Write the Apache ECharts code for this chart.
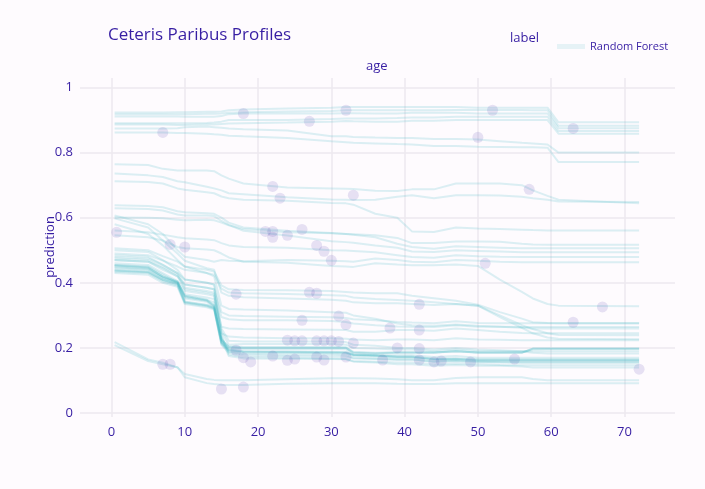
<!DOCTYPE html>
<html>
<head>
<meta charset="utf-8">
<script src="https://cdn.jsdelivr.net/npm/echarts@6/dist/echarts.min.js"></script>
<style>
  html, body { margin: 0; padding: 0; background: #fefbfe; }
  #main { width: 705px; height: 489px; }
</style>
</head>
<body>
<div id="main"></div>
<script>
// ages at which each ceteris paribus profile is evaluated
var AGES = [0.42, 5, 7, 9, 10, 13, 14, 15, 16, 18, 24, 30, 32, 33, 36, 39, 41, 44, 47, 50, 53, 56, 57.5, 59.5, 61, 72];

// profiles that sit near the top of the chart
var TOP_PROFILES = [
    [0.923,0.923,0.923,0.924,0.924,0.925,0.925,0.926,0.93,0.932,0.935,0.938,0.94,0.94,0.94,0.94,0.94,0.94,0.94,0.938,0.938,0.938,0.938,0.938,0.893,0.893],
    [0.918,0.918,0.918,0.918,0.918,0.919,0.919,0.92,0.922,0.924,0.926,0.928,0.93,0.93,0.93,0.93,0.93,0.93,0.931,0.931,0.931,0.931,0.93,0.93,0.882,0.882],
    [0.911,0.911,0.911,0.911,0.91,0.91,0.91,0.912,0.918,0.92,0.92,0.92,0.921,0.921,0.92,0.92,0.922,0.922,0.922,0.92,0.92,0.92,0.92,0.92,0.875,0.875],
    [0.89,0.89,0.89,0.89,0.89,0.891,0.892,0.895,0.9,0.9,0.9,0.903,0.905,0.905,0.905,0.906,0.908,0.908,0.91,0.91,0.91,0.91,0.91,0.91,0.866,0.866],
    [0.886,0.886,0.886,0.885,0.885,0.886,0.886,0.888,0.889,0.89,0.892,0.895,0.897,0.896,0.895,0.895,0.898,0.898,0.9,0.9,0.9,0.9,0.9,0.9,0.858,0.858],
    [0.874,0.874,0.874,0.875,0.878,0.88,0.878,0.876,0.874,0.872,0.868,0.85,0.85,0.848,0.846,0.845,0.845,0.842,0.842,0.84,0.835,0.83,0.828,0.825,0.8,0.8],
    [0.862,0.862,0.862,0.86,0.86,0.858,0.856,0.855,0.852,0.85,0.845,0.835,0.832,0.83,0.828,0.826,0.825,0.82,0.82,0.818,0.817,0.816,0.816,0.815,0.771,0.771]
];

var UPPER_PROFILES = [
    [0.764,0.762,0.75,0.745,0.745,0.745,0.743,0.73,0.72,0.705,0.693,0.69,0.689,0.688,0.683,0.682,0.687,0.687,0.705,0.705,0.705,0.7,0.684,0.667,0.655,0.644],
    [0.736,0.73,0.725,0.712,0.709,0.695,0.69,0.684,0.675,0.672,0.663,0.656,0.655,0.654,0.655,0.664,0.669,0.66,0.669,0.669,0.668,0.664,0.66,0.655,0.65,0.648],
    [0.712,0.71,0.705,0.69,0.686,0.678,0.675,0.665,0.66,0.655,0.652,0.645,0.644,0.64,0.612,0.6,0.558,0.556,0.57,0.567,0.565,0.563,0.562,0.561,0.561,0.561]
];

var MID_PROFILES = [
    [0.638,0.636,0.632,0.62,0.617,0.614,0.612,0.6,0.585,0.57,0.56,0.553,0.55,0.548,0.54,0.52,0.51,0.505,0.512,0.51,0.508,0.506,0.506,0.506,0.506,0.506],
    [0.629,0.627,0.622,0.61,0.607,0.607,0.605,0.59,0.578,0.56,0.545,0.528,0.525,0.523,0.515,0.508,0.496,0.495,0.5,0.498,0.496,0.494,0.494,0.494,0.494,0.494],
    [0.601,0.6,0.598,0.594,0.592,0.594,0.592,0.585,0.577,0.565,0.555,0.552,0.55,0.549,0.546,0.538,0.522,0.522,0.527,0.527,0.526,0.52,0.518,0.517,0.517,0.517],
    [0.561,0.555,0.548,0.54,0.537,0.533,0.531,0.522,0.515,0.51,0.508,0.5,0.499,0.498,0.494,0.485,0.479,0.477,0.485,0.482,0.48,0.479,0.479,0.479,0.479,0.479],
    [0.607,0.58,0.55,0.5,0.48,0.47,0.465,0.47,0.468,0.466,0.47,0.468,0.466,0.465,0.475,0.47,0.465,0.463,0.47,0.468,0.465,0.463,0.463,0.463,0.463,0.463],
    [0.546,0.54,0.53,0.51,0.506,0.502,0.5,0.49,0.478,0.465,0.462,0.452,0.45,0.449,0.46,0.456,0.454,0.454,0.456,0.452,0.41,0.372,0.352,0.335,0.33,0.328]
];

// profiles that fall at age ~14 but stay above the main bundle
var LOW_PROFILES = [
    [0.506,0.5,0.482,0.465,0.45,0.44,0.435,0.392,0.38,0.378,0.377,0.375,0.372,0.37,0.368,0.368,0.36,0.353,0.345,0.333,0.31,0.29,0.279,0.277,0.276,0.276],
    [0.49,0.485,0.468,0.45,0.44,0.43,0.425,0.382,0.37,0.368,0.366,0.362,0.36,0.355,0.35,0.347,0.345,0.34,0.335,0.33,0.3,0.27,0.258,0.245,0.24,0.239],
    [0.598,0.57,0.53,0.49,0.468,0.445,0.44,0.37,0.36,0.356,0.352,0.348,0.345,0.34,0.337,0.337,0.335,0.332,0.335,0.33,0.295,0.262,0.245,0.232,0.228,0.227],
    [0.479,0.475,0.455,0.43,0.41,0.4,0.395,0.31,0.3,0.298,0.296,0.294,0.292,0.288,0.285,0.28,0.278,0.276,0.282,0.277,0.276,0.276,0.276,0.276,0.276,0.276],
    [0.469,0.465,0.445,0.42,0.395,0.385,0.38,0.295,0.288,0.285,0.285,0.283,0.28,0.275,0.27,0.266,0.265,0.264,0.27,0.265,0.265,0.264,0.264,0.264,0.264,0.264],
    [0.46,0.455,0.43,0.405,0.375,0.365,0.36,0.265,0.26,0.258,0.257,0.256,0.255,0.25,0.25,0.255,0.255,0.253,0.26,0.255,0.25,0.246,0.245,0.245,0.245,0.245],
    [0.455,0.45,0.425,0.4,0.365,0.355,0.35,0.245,0.235,0.232,0.23,0.23,0.228,0.226,0.224,0.226,0.226,0.224,0.23,0.226,0.225,0.224,0.224,0.224,0.224,0.224],
    [0.58,0.55,0.515,0.47,0.45,0.43,0.42,0.33,0.32,0.318,0.315,0.31,0.308,0.3,0.29,0.275,0.27,0.268,0.272,0.268,0.265,0.262,0.26,0.26,0.26,0.26]
];

// the dense bundle that ends around 0.15-0.2
var DROP_PROFILES = [
    [0.451,0.445,0.418,0.402,0.356,0.345,0.328,0.224,0.202,0.2,0.2,0.2,0.2,0.185,0.182,0.185,0.185,0.185,0.19,0.185,0.185,0.185,0.198,0.198,0.198,0.198],
    [0.453,0.447,0.419,0.403,0.358,0.346,0.33,0.225,0.203,0.201,0.201,0.201,0.201,0.186,0.184,0.186,0.186,0.186,0.19,0.186,0.186,0.186,0.198,0.198,0.198,0.198],
    [0.455,0.448,0.42,0.405,0.36,0.348,0.332,0.226,0.205,0.203,0.203,0.203,0.202,0.188,0.185,0.187,0.187,0.186,0.19,0.186,0.186,0.186,0.196,0.197,0.197,0.197],
    [0.448,0.442,0.415,0.4,0.352,0.342,0.325,0.22,0.198,0.197,0.197,0.197,0.196,0.18,0.178,0.178,0.178,0.172,0.175,0.17,0.17,0.17,0.17,0.17,0.17,0.17],
    [0.437,0.432,0.408,0.395,0.34,0.33,0.322,0.215,0.193,0.188,0.187,0.186,0.185,0.178,0.176,0.172,0.172,0.165,0.166,0.162,0.162,0.162,0.162,0.162,0.162,0.162],
    [0.438,0.433,0.409,0.396,0.341,0.331,0.323,0.216,0.194,0.189,0.188,0.187,0.186,0.179,0.177,0.173,0.173,0.166,0.167,0.163,0.163,0.163,0.163,0.163,0.163,0.163],
    [0.44,0.435,0.41,0.398,0.343,0.333,0.325,0.218,0.196,0.19,0.189,0.188,0.187,0.18,0.178,0.174,0.174,0.167,0.168,0.165,0.165,0.165,0.165,0.165,0.165,0.165],
    [0.434,0.43,0.405,0.392,0.338,0.328,0.32,0.212,0.19,0.186,0.185,0.184,0.183,0.176,0.174,0.17,0.17,0.163,0.164,0.16,0.16,0.16,0.16,0.16,0.16,0.16],
    [0.43,0.425,0.4,0.388,0.335,0.325,0.318,0.21,0.185,0.178,0.175,0.174,0.173,0.168,0.166,0.163,0.163,0.158,0.16,0.156,0.156,0.155,0.155,0.155,0.155,0.155],
    [0.445,0.44,0.415,0.4,0.36,0.348,0.34,0.23,0.175,0.168,0.167,0.166,0.165,0.158,0.155,0.15,0.15,0.145,0.148,0.145,0.145,0.143,0.14,0.14,0.14,0.14],
    [0.47,0.465,0.44,0.42,0.38,0.37,0.365,0.24,0.18,0.172,0.17,0.168,0.166,0.16,0.158,0.155,0.155,0.15,0.152,0.15,0.148,0.147,0.147,0.147,0.147,0.147],
    [0.485,0.48,0.455,0.43,0.395,0.385,0.38,0.25,0.21,0.212,0.212,0.212,0.21,0.2,0.198,0.195,0.195,0.19,0.195,0.19,0.19,0.19,0.19,0.19,0.19,0.19],
    [0.5,0.495,0.47,0.44,0.41,0.4,0.395,0.26,0.222,0.22,0.22,0.22,0.218,0.21,0.207,0.2,0.2,0.195,0.2,0.195,0.193,0.19,0.185,0.183,0.183,0.183],
    [0.475,0.47,0.448,0.425,0.385,0.375,0.37,0.235,0.188,0.182,0.18,0.18,0.178,0.17,0.168,0.165,0.165,0.158,0.16,0.158,0.156,0.155,0.155,0.155,0.155,0.155]
];

var BOTTOM_PROFILES = [
    [0.218,0.165,0.155,0.14,0.12,0.105,0.102,0.101,0.101,0.101,0.104,0.107,0.107,0.107,0.106,0.104,0.101,0.101,0.108,0.11,0.11,0.11,0.105,0.101,0.101,0.101],
    [0.209,0.16,0.15,0.141,0.11,0.092,0.089,0.087,0.086,0.086,0.09,0.092,0.092,0.092,0.092,0.09,0.089,0.089,0.092,0.092,0.092,0.092,0.092,0.092,0.092,0.092]
];

// observed passengers (age, prediction)
var OBS_AGE  = [0.7, 7, 8, 10, 7, 8, 15, 18, 17, 17, 19, 18, 18, 21, 22, 22, 22, 22, 23, 24, 24, 24, 25, 25, 26, 26, 26, 27, 27, 28, 28, 28, 28, 29, 29, 29, 30, 30, 31, 31, 32, 32, 32, 33, 33, 37, 38, 39, 42, 42, 42, 42, 44, 45, 49, 50, 51, 52, 55, 57, 63, 63, 67, 72];
var OBS_PRED = [0.555, 0.862, 0.518, 0.51, 0.15, 0.15, 0.074, 0.08, 0.365, 0.193, 0.157, 0.17, 0.92, 0.558, 0.558, 0.54, 0.696, 0.175, 0.66, 0.546, 0.224, 0.162, 0.222, 0.166, 0.564, 0.285, 0.222, 0.896, 0.371, 0.368, 0.515, 0.222, 0.172, 0.497, 0.222, 0.163, 0.469, 0.222, 0.298, 0.22, 0.93, 0.272, 0.172, 0.669, 0.215, 0.163, 0.261, 0.2, 0.334, 0.255, 0.198, 0.163, 0.157, 0.16, 0.157, 0.847, 0.46, 0.93, 0.166, 0.687, 0.874, 0.279, 0.326, 0.135];

var TEXT = '#371ea3';
var GRID = '#ede8ef';
var FONT = 'Open Sans, Noto Sans, sans-serif';

var myChart = echarts.init(document.getElementById('main'));

var allProfiles = [].concat(TOP_PROFILES, UPPER_PROFILES, MID_PROFILES, LOW_PROFILES, DROP_PROFILES, BOTTOM_PROFILES);
var series = allProfiles.map(function (p) {
    return {
        name: 'Random Forest',
        type: 'line',
        data: AGES.map(function (a, i) { return [a, p[i]]; }),
        symbol: 'none',
        silent: true,
        itemStyle: { color: '#46bac2' },
        lineStyle: { width: 2, color: '#46bac2', opacity: 0.19 },
        z: 2
    };
});
series.push({
    name: 'obs',
    type: 'scatter',
    data: OBS_AGE.map(function (a, i) { return [a, OBS_PRED[i]]; }),
    symbolSize: 11,
    silent: true,
    itemStyle: { color: TEXT, opacity: 0.12 },
    z: 3
});

var option = {
    backgroundColor: '#fefbfe',
    animation: false,
    textStyle: { fontFamily: FONT },
    title: {
        text: 'Ceteris Paribus Profiles',
        left: 103,
        top: 22,
        textStyle: { color: TEXT, fontSize: 17, fontWeight: 'normal', fontFamily: FONT }
    },
    legend: {
        data: [{ name: 'Random Forest', icon: 'rect', itemStyle: { color: 'rgba(70,186,194,0.13)' } }],
        left: 552,
        top: 36,
        itemWidth: 28,
        itemHeight: 5,
        textStyle: { color: TEXT, fontSize: 11, fontFamily: FONT }
    },
    graphic: [
        { type: 'text', left: 510, top: 32, style: { text: 'label', fill: TEXT, font: '13px ' + FONT } },
        { type: 'text', left: 366, top: 60, style: { text: 'age', fill: TEXT, font: '13px ' + FONT } },
        {
            type: 'text', x: 50, y: 247, rotation: Math.PI / 2,
            style: { text: 'prediction', fill: TEXT, font: '13px ' + FONT, align: 'center', verticalAlign: 'middle' }
        }
    ],
    grid: { left: 80, right: 30, top: 78, bottom: 72 },
    xAxis: {
        type: 'value',
        min: -4.3,
        max: 76.9,
        splitNumber: 8,
        axisLine: { show: false },
        axisTick: { show: false },
        axisLabel: { color: TEXT, fontSize: 13, margin: 9, showMinLabel: false, showMaxLabel: false, fontFamily: FONT },
        splitLine: { lineStyle: { color: ['rgba(0,0,0,0)', GRID, GRID, GRID, GRID, GRID, GRID, GRID, GRID, 'rgba(0,0,0,0)'], width: 1.5 } }
    },
    yAxis: {
        type: 'value',
        min: -0.012,
        max: 1.029,
        splitNumber: 5,
        axisLine: { show: false },
        axisTick: { show: false },
        axisLabel: { color: TEXT, fontSize: 13, margin: 7, showMinLabel: false, showMaxLabel: false, fontFamily: FONT },
        splitLine: { lineStyle: { color: ['rgba(0,0,0,0)', GRID, GRID, GRID, GRID, GRID, GRID, 'rgba(0,0,0,0)'], width: 1.5 } }
    },
    series: series
};
myChart.setOption(option);
</script>
</body>
</html>
